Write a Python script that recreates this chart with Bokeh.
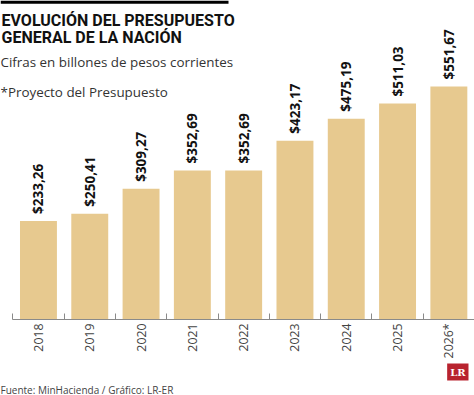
import math
from bokeh.plotting import figure
from bokeh.models import (ColumnDataSource, Range1d, LinearAxis, FixedTicker,
                          CustomJSTickFormatter, Label, BoxAnnotation, Title)
from bokeh.core.properties import value
from bokeh.embed import file_html
from bokeh.resources import INLINE

categories = ["2018", "2019", "2020", "2021", "2022", "2023", "2024", "2025", "2026*"]
values = [233.26, 250.41, 309.27, 352.69, 352.69, 423.17, 475.19, 511.03, 551.67]
value_labels = ["$" + f"{v:.2f}".replace(".", ",") for v in values]

title_lines = ["EVOLUCIÓN DEL PRESUPUESTO", "GENERAL DE LA NACIÓN"]
subtitle = "Cifras en billones de pesos corrientes"
note = "*Proyecto del Presupuesto"
source_text = "Fuente: MinHacienda / Gráfico: LR-ER"
logo_text = "LR"

W = 474
FRAME_H = 319               # y of the axis line, px from top
CAT_W = 50                  # px per category
LEFT_PAD = 12               # px from left edge to first category
PX_PER_UNIT = 0.4225

n = len(categories)
x_start = -LEFT_PAD / CAT_W
x_end = (W - LEFT_PAD) / CAT_W + x_start
ymax = FRAME_H / PX_PER_UNIT

centers = [i + 0.5 for i in range(n)]
src = ColumnDataSource(dict(x=centers, top=values, label=value_labels))

p = figure(frame_width=W, frame_height=FRAME_H, output_backend="svg", toolbar_location=None,
           x_range=Range1d(x_start, x_end), y_range=Range1d(0, ymax),
           x_axis_type=None, y_axis_type=None,
           min_border_left=0, min_border_right=0, min_border_top=0,
           min_border_bottom=0)
p.outline_line_color = None
p.grid.visible = False
p.background_fill_color = "white"
p.border_fill_color = "white"

p.vbar(x="x", top="top", width=0.72, bottom=0, source=src,
       fill_color="#E7C98F", line_color=None)

p.text(x="x", y="top", text="label", source=src, angle=math.pi / 2,
       text_align="left", text_baseline="middle", y_offset=-7,
       text_font=value("Open Sans"), text_font_style="bold",
       text_font_size="13.5px", text_color="#111111")

xaxis = LinearAxis(
    ticker=FixedTicker(ticks=centers, minor_ticks=list(range(n + 1))),
    formatter=CustomJSTickFormatter(args=dict(labels=categories),
                                    code="return labels[Math.floor(tick)];"),
    bounds=(0, n),
)
xaxis.axis_line_color = "#8a8a8a"
xaxis.major_tick_in = 0
xaxis.major_tick_out = 0
xaxis.minor_tick_in = 6
xaxis.minor_tick_out = 0
xaxis.minor_tick_line_color = "#8a8a8a"
xaxis.major_label_orientation = math.pi / 2
xaxis.major_label_standoff = 4
xaxis.major_label_text_font = "Open Sans"
xaxis.major_label_text_font_size = "12.3px"
xaxis.major_label_text_color = "#444444"
p.add_layout(xaxis, "below")

def fy(y_px):
    return FRAME_H - y_px

p.add_layout(BoxAnnotation(left=0, right=228, top=fy(0), bottom=fy(3.3),
                           left_units="screen", right_units="screen",
                           top_units="screen", bottom_units="screen",
                           fill_color="black", fill_alpha=1, line_color=None))

def lab(text, x_px, y_px, size, style="normal", color="#222222", font="Open Sans"):
    p.add_layout(Label(x=x_px, y=fy(y_px), x_units="screen", y_units="screen",
                       text=text, text_font=font, text_font_size=size,
                       text_font_style=style, text_color=color,
                       text_align="left", text_baseline="alphabetic"))

lab(title_lines[0], 1, 20, "16px", "bold", "#111111", "Roboto")
lab(title_lines[1], 1, 36.5, "16px", "bold", "#111111", "Roboto")
lab(subtitle, 0, 61.5, "13.4px", "normal", "#333333")
lab(note, 0, 91.5, "13.4px", "normal", "#333333")

p.add_layout(Title(text=logo_text, align="right", offset=6, standoff=0,
                   text_font="DejaVu Serif", text_font_size="10px",
                   text_font_style="bold", text_color="white",
                   background_fill_color="#B8232F", padding=3), "below")
p.add_layout(Title(text=source_text, align="left", offset=0, standoff=0,
                   text_font="Open Sans", text_font_size="10px",
                   text_font_style="normal", text_color="#444444"), "below")

open("out.html", "w").write(file_html(p, INLINE))
